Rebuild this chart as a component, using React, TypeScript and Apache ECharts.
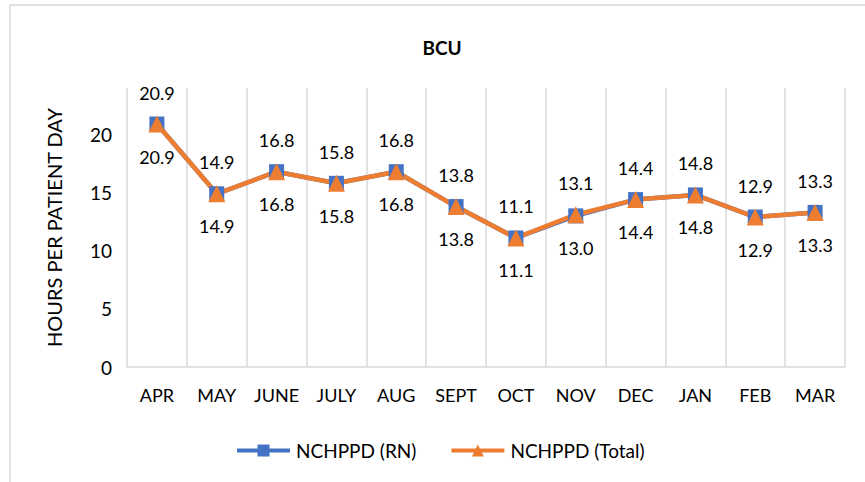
import React, { useEffect, useRef } from "react";
import * as echarts from "echarts";

const months = ["APR", "MAY", "JUNE", "JULY", "AUG", "SEPT", "OCT", "NOV", "DEC", "JAN", "FEB", "MAR"];
const rnValues = [20.9, 14.9, 16.8, 15.8, 16.8, 13.8, 11.1, 13.0, 14.4, 14.8, 12.9, 13.3];
const totalValues = [20.9, 14.9, 16.8, 15.8, 16.8, 13.8, 11.1, 13.1, 14.4, 14.8, 12.9, 13.3];
const titleText = "BCU";
const yAxisName = "HOURS PER PATIENT DAY";

const FONT = "Lato, 'Open Sans', sans-serif";

export default function App() {
  const ref = useRef<HTMLDivElement>(null);
  useEffect(() => {
    document.body.style.margin = "0";
    if (!ref.current) return;
    const chart = echarts.init(ref.current, undefined, { renderer: "svg" });
    chart.setOption({
      animation: false,
      backgroundColor: "#ffffff",
      textStyle: { fontFamily: FONT },
      title: {
        text: titleText,
        left: 437,
        top: 33,
        textAlign: "center",
        textStyle: { fontSize: 19, fontWeight: "bold", color: "#000", fontFamily: FONT },
      },
      graphic: [
        {
          type: "rect",
          shape: { x: 10, y: 5, width: 880, height: 500 },
          style: { fill: "none", stroke: "#d9d9d9", lineWidth: 1.5 },
          silent: true,
        },
      ],
      legend: {
        top: 436,
        left: 230,
        itemWidth: 53,
        itemHeight: 15,
        itemGap: 33,
        textStyle: { fontSize: 19, color: "#000", fontFamily: FONT, padding: [0, 0, 0, 1] },
        lineStyle: { width: 4 },
        data: ["NCHPPD (RN)", "NCHPPD (Total)"],
      },
      grid: { left: 127, right: 20, top: 88, bottom: 115 },
      xAxis: {
        type: "category",
        data: months,
        boundaryGap: true,
        axisLine: { show: true, lineStyle: { color: "#d9d9d9", width: 1.5 } },
        axisTick: { show: false },
        splitLine: { show: true, lineStyle: { color: "#d9d9d9", width: 1.5 } },
        axisLabel: { fontSize: 18, color: "#000", margin: 19, fontFamily: FONT, interval: 0 },
      },
      yAxis: {
        type: "value",
        min: 0,
        max: 24,
        interval: 5,
        name: yAxisName,
        nameLocation: "middle",
        nameGap: 63,
        nameTextStyle: { fontSize: 20, color: "#000", fontFamily: FONT },
        axisLine: { show: false },
        axisTick: { show: false },
        splitLine: { show: false },
        axisLabel: { fontSize: 19, color: "#000", margin: 15, showMaxLabel: false, fontFamily: FONT },
      },
      series: [
        {
          name: "NCHPPD (RN)",
          type: "line",
          data: rnValues,
          symbol: "rect",
          symbolSize: 15,
          itemStyle: { color: "#4472C4" },
          lineStyle: { color: "#4472C4", width: 4.5 },
          label: {
            show: true,
            position: "bottom",
            distance: 16,
            fontSize: 18,
            color: "#000",
            fontFamily: FONT,
            formatter: (p: any) => Number(p.value).toFixed(1),
          },
        },
        {
          name: "NCHPPD (Total)",
          type: "line",
          data: totalValues,
          symbol: "triangle",
          symbolSize: 17,
          itemStyle: { color: "#ED7D31" },
          lineStyle: { color: "#ED7D31", width: 4.5 },
          label: {
            show: true,
            position: "top",
            distance: 14,
            fontSize: 18,
            color: "#000",
            fontFamily: FONT,
            formatter: (p: any) => Number(p.value).toFixed(1),
          },
        },
      ],
    });
    return () => chart.dispose();
  }, []);
  return <div ref={ref} style={{ width: 865, height: 482 }} />;
}
